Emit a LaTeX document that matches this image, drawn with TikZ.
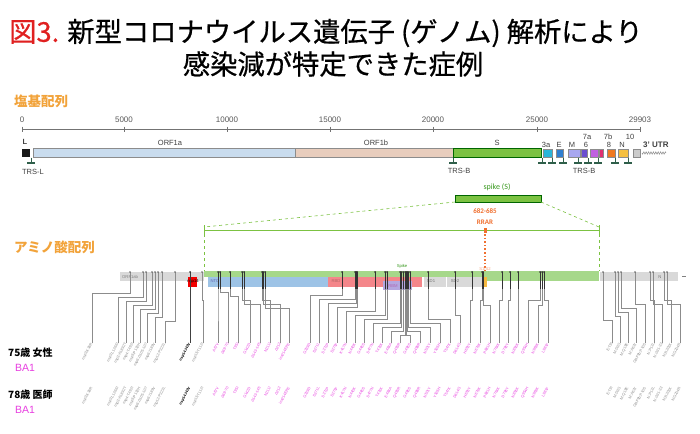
\documentclass[tikz,border=0pt]{standalone}
\usepackage{fontspec}
\setmainfont{Liberation Sans}
\newfontfamily\cjk{Noto Sans CJK JP}
\newfontfamily\cjkt[FakeBold=0.6]{Noto Sans CJK JP}
\newfontfamily\calf{Carlito}
\definecolor{secor}{HTML}{F2A33A}
\definecolor{pinkm}{HTML}{E83FE0}
\definecolor{lblgray}{HTML}{8C8C8C}
\definecolor{trsg}{HTML}{2F5F4A}
\definecolor{orfa}{HTML}{C9DCEE}
\definecolor{orfb}{HTML}{E8CDBD}
\definecolor{sgreen}{HTML}{7CC242}
\definecolor{lgreen}{HTML}{A6D88A}
\definecolor{spkg}{HTML}{3A9A20}
\definecolor{rrar}{HTML}{F07030}
\definecolor{titred}{HTML}{E02020}
\definecolor{c3a}{RGB}{43,181,216}
\definecolor{cE}{RGB}{47,127,208}
\definecolor{cM}{RGB}{168,168,240}
\definecolor{c6}{RGB}{106,79,208}
\definecolor{c7a}{RGB}{192,96,224}
\definecolor{c7b}{RGB}{224,48,112}
\definecolor{c8}{RGB}{240,122,32}
\definecolor{cN}{RGB}{245,192,64}
\definecolor{cntd}{RGB}{157,195,230}
\definecolor{crbd}{RGB}{244,134,138}
\definecolor{crbm}{RGB}{180,167,224}
\definecolor{cs12}{RGB}{245,185,66}
\tikzset{
  genebox/.style={draw=black!45, line width=0.5pt},
  genelbl/.style={font=\fontsize{7.5}{8}\selectfont, text=black!75, inner sep=0pt},
  axlbl/.style={font=\fontsize{8}{9}\selectfont, text=black!65, inner sep=0pt},
  trs/.style={draw=trsg, line width=1.1pt},
  conn/.style={draw=black!45, line width=0.45pt},
  darkseg/.style={draw=black!80, line width=0.6pt},
  mlbl/.style={font=\fontsize{3.8}{4.2}\selectfont, rotate=62, anchor=east, inner sep=0.2pt},
  tiny/.style={font=\fontsize{4.2}{5}\selectfont, inner sep=0pt},
  secl/.style={font=\cjk\bfseries\fontsize{13.5}{15}\selectfont, text=secor, anchor=west, inner sep=0pt},
}
\begin{document}
\begin{tikzpicture}[x=1pt,y=-1pt]
\useasboundingbox (0,0) rectangle (700,433);
\fill[white] (0,0) rectangle (700,433);
% ---- title
\node[anchor=west, inner sep=0pt] (t1) at (9,33) {\cjkt\fontsize{27.3}{32}\selectfont\textcolor{titred}{図3.} 新型コロナウイルス遺伝子 (ゲノム) 解析により};
\node[inner sep=0pt] (t2) at (333,64) {\cjkt\fontsize{27.3}{32}\selectfont 感染減が特定できた症例};
% ---- section labels
\node[secl] (s1) at (14,101) {塩基配列};
\node[secl] (s2) at (14,247) {アミノ酸配列};
% ---- axis
\draw[black!55, line width=0.6pt] (22,129) -- (640,129);
\foreach \x/\v in {22/0,124/5000,227/10000,330/15000,433/20000,537/25000,640/29903}{
  \draw[black!55, line width=0.6pt] (\x,126.5) -- (\x,131.5);
  \node[axlbl] (ax\v) at (\x,120) {\v};
}
% ---- genome bars
\fill[black!90] (22,149) rectangle (30,157);
\node[genelbl, font=\bfseries\fontsize{7.5}{8}\selectfont] (lL) at (25,142) {L};
\draw[genebox, fill=orfa] (33,148.5) rectangle (295,157.5);
\draw[genebox, fill=orfb] (295,148.5) rectangle (453,157.5);
\draw[genebox, draw=green!40!black, fill=sgreen] (453,148.5) rectangle (541,157.5);
\node[genelbl] (l1a) at (170,143) {ORF1a};
\node[genelbl] (l1b) at (376,143) {ORF1b};
\node[genelbl] (lS) at (497,143) {S};
% small ORFs
\draw[genebox, fill=c3a] (543,149) rectangle (552,157);
\draw[genebox, fill=cE] (556,149) rectangle (563,157);
\draw[genebox, fill=cM] (568,149) rectangle (580,157);
\draw[genebox, fill=c6] (581,149) rectangle (587,157);
\draw[genebox, fill=c7a] (590,149) rectangle (598,157);
\draw[genebox, fill=c7b] (599,149) rectangle (603,157);
\draw[genebox, fill=c8] (607,149) rectangle (615,157);
\draw[genebox, fill=cN] (618,149) rectangle (628,157);
\draw[genebox, fill=black!20] (633,149) rectangle (640,157);
\draw[black!50, line width=0.4pt] plot[domain=0:24, samples=60] ({642+\x},{153+1.3*sin(\x*150)});
\node[genelbl] (l3a) at (546,145) {3a};
\node[genelbl] (lE) at (559,145) {E};
\node[genelbl] (lM) at (572,145) {M};
\node[genelbl] (l6) at (586,145) {6};
\node[genelbl] (l7a) at (587,137) {7a};
\node[genelbl] (l7b) at (608,137) {7b};
\node[genelbl] (l8) at (609,145) {8};
\node[genelbl] (lN) at (622,145) {N};
\node[genelbl] (l10) at (630,137) {10};
\node[genelbl, font=\bfseries\fontsize{8}{9}\selectfont, anchor=west] (lutr) at (643,145) {3' UTR};
% TRS markers
\foreach \x in {31,453,542,552,563,578,588,598,615,628}{
  \draw[trs, line width=0.7pt] (\x,157.5) -- (\x,163);
  \draw[trs] (\x-4,163) -- (\x+4,163);
}
\node[genelbl] (trsl) at (33,172) {TRS-L};
\node[genelbl] (trsb1) at (459,171) {TRS-B};
\node[genelbl] (trsb2) at (584,171) {TRS-B};
% ---- spike zoom
\node[font=\calf\fontsize{8}{9}\selectfont, text=spkg, inner sep=0pt] (spl) at (497,187) {spike (S)};
\draw[draw=green!40!black, fill=sgreen, line width=0.5pt] (455,195) rectangle (541,202);
\coordinate (bl) at (455,202);
\coordinate (br) at (541,202);
\coordinate (hl) at (204,227);
\coordinate (hr) at (599,227);
\draw[sgreen, dashed, line width=0.6pt] (bl) -- (hl);
\draw[sgreen, dashed, line width=0.6pt] (br) -- (hr);
\draw[sgreen, line width=1pt] (204,230) -- (599,230);
\draw[sgreen, line width=0.8pt] (204,225) -- (204,234);
\draw[sgreen, line width=0.8pt] (599,225) -- (599,234);
\draw[sgreen, dashed, line width=0.6pt] (204,234) -- (204,271);
\draw[sgreen, dashed, line width=0.6pt] (599,234) -- (599,271);
\node[font=\calf\bfseries\fontsize{7}{8}\selectfont, text=rrar, inner sep=0pt] (r1) at (485,211) {682-685};
\node[font=\calf\bfseries\fontsize{7}{8}\selectfont, text=rrar, inner sep=0pt] (r2) at (485,222) {RRAR};
\fill[rrar] (483.5,227.5) rectangle (486.5,233);
\draw[rrar, dotted, line width=1.6pt] (485,234) -- (485,272);
% ---- protein bar
\fill[black!15] (120,272) rectangle (204,281);
\node[tiny, text=black!50, anchor=west] (orf1ab) at (122,276.5) {ORF1ab};
\fill[lgreen] (204,271) rectangle (599,276.5);
\fill[cntd] (208,276.5) rectangle (328,287);
\fill[crbd] (328,276.5) rectangle (422,287);
\fill[crbm] (383,281) rectangle (412,290);
\fill[black!15] (424,276.5) rectangle (446,287);
\fill[black!15] (447,276.5) rectangle (483,287);
\fill[cs12] (483,276.5) rectangle (487,287);
\fill[lgreen] (487,271) rectangle (599,281);
\fill[black!15] (600,272) rectangle (678,281);
\draw[black!50, line width=0.6pt] (682,276) -- (686,276);
\fill[red!95!black] (188,276.5) rectangle (197,286.5);
\node[tiny, text=black] (nsp14) at (193,281.5) {nsp14};
\node[tiny, text=blue!50!black!60] (ntd) at (215,281.5) {NTD};
\node[tiny, text=red!50!black!60] (rbd) at (336,281.5) {RBD};
\node[tiny, text=violet!60] (rbm) at (393,286) {RBM};
\node[tiny, text=black!55] (sd1) at (431,281.5) {SD1};
\node[tiny, text=black!55] (sd2) at (455,281.5) {SD2};
\node[tiny, text=spkg] (spk) at (402,266) {Spike};
\node[tiny, text=rrar!60] (s12) at (485,269) {S1/S2};
\node[tiny, text=black!55] (nn) at (660,277) {N};
% ---- person labels
\node[anchor=west, inner sep=0pt, font=\cjk\bfseries\fontsize{10}{11}\selectfont] (p1) at (8,353) {75歳 女性};
\node[anchor=west, inner sep=0pt, font=\fontsize{10.5}{11}\selectfont, text=pinkm] (b1) at (15,368) {BA1};
\node[anchor=west, inner sep=0pt, font=\cjk\bfseries\fontsize{10}{11}\selectfont] (p2) at (8,395) {78歳 医師};
\node[anchor=west, inner sep=0pt, font=\fontsize{10.5}{11}\selectfont, text=pinkm] (b2) at (15,410) {BA1};
% ---- mutations: ORF1ab (gray)
\foreach \t/\b/\e/\l [count=\i] in {
 130/92/293/nsp3:K38R, 143/118/297/nsp3:L1266I, 146/126/301/nsp3:A1892T,
 152/133/305/nsp4:T492I, 155/140/309/nsp5:P132H, 158/147/313/nsp6:Δ105-107,
 162/155/317/nsp6:I189V, 175/165/321/nsp12:P323L, 202/203/300/nsp15:T112I}{
  \coordinate (ga\i) at (\t,272);
  \coordinate (gb\i) at (\b,343);
  \draw[conn] (ga\i) -- (\t,\e) -| (gb\i);
  \fill[black!60] (ga\i) circle (0.9);
  \node[mlbl, text=lblgray] (gl\i) at (gb\i) {\l};
  \node[mlbl, text=lblgray] (gm\i) at (\b,387) {\l};
}
\coordinate (ka) at (190,272);
\coordinate (kb) at (190,343);
\draw[conn, draw=black!75] (ka) -- (kb);
\fill[black!80] (ka) circle (1);
\node[mlbl, text=black, font=\bfseries\fontsize{3.8}{4.2}\selectfont] (kl) at (kb) {nsp14:I42V};
\node[mlbl, text=black, font=\bfseries\fontsize{3.8}{4.2}\selectfont] (km) at (190,387) {nsp14:I42V};
% ---- mutations: spike (pink)
\foreach \t/\b/\e/\l [count=\i] in {
 218/218/300/A67V, 220/228/292/Δ69-70, 230/238/296/T95I, 242/250/300/G142D,
 244/260/304/Δ143-145, 262/270/300/N211I, 263/280/304/Δ212, 265/289/308/ins214EPE,
 342/310/295/G339D, 355/319/299/S371L, 356/328/303/S373P, 357/337/307/S375F,
 375/346/311/K417N, 385/355/315/N440K, 387/364/319/G446S, 400/373/323/S477N,
 401/382/327/T478K, 403/391/331/E484A, 405/400/335/Q493R, 406/410/335/G496S,
 407/420/331/Q498R, 408/430/327/N501Y, 410/440/323/Y505H, 428/450/319/T547K,
 455/460/315/D614G, 472/470/300/H655Y, 482/480/300/N679K, 483/490/305/P681H,
 502/499/300/N764K, 510/508/300/D796Y, 518/518/300/N856K, 540/528/300/Q954H,
 542/538/305/N969K, 544/548/300/L981F}{
  \coordinate (sa\i) at (\t,272);
  \coordinate (sb\i) at (\b,343);
  \draw[conn] (sa\i) -- (\t,\e) -| (sb\i);
  \draw[darkseg] (sa\i) -- (\t,289);
  \fill[black!80] (sa\i) circle (1);
  \node[mlbl, text=pinkm] (sl\i) at (sb\i) {\l};
  \node[mlbl, text=pinkm] (sm\i) at (\b,387) {\l};
}
% ---- mutations: other ORFs (gray)
\foreach \t/\b/\e/\l [count=\i] in {
 603/612/320/E:T9I, 615/620/316/M:D3G, 618/628/312/M:Q19E, 621/636/308/M:A63T,
 635/645/304/ORF9b:P10S, 650/654/300/N:P13L, 653/662/304/N:Δ31-33,
 664/671/300/N:R203K, 667/680/304/N:G204R}{
  \coordinate (oa\i) at (\t,272);
  \coordinate (ob\i) at (\b,343);
  \draw[conn] (oa\i) -- (\t,\e) -| (ob\i);
  \fill[black!60] (oa\i) circle (0.9);
  \node[mlbl, text=lblgray] (ol\i) at (ob\i) {\l};
  \node[mlbl, text=lblgray] (om\i) at (\b,387) {\l};
}
\end{tikzpicture}
\end{document}
